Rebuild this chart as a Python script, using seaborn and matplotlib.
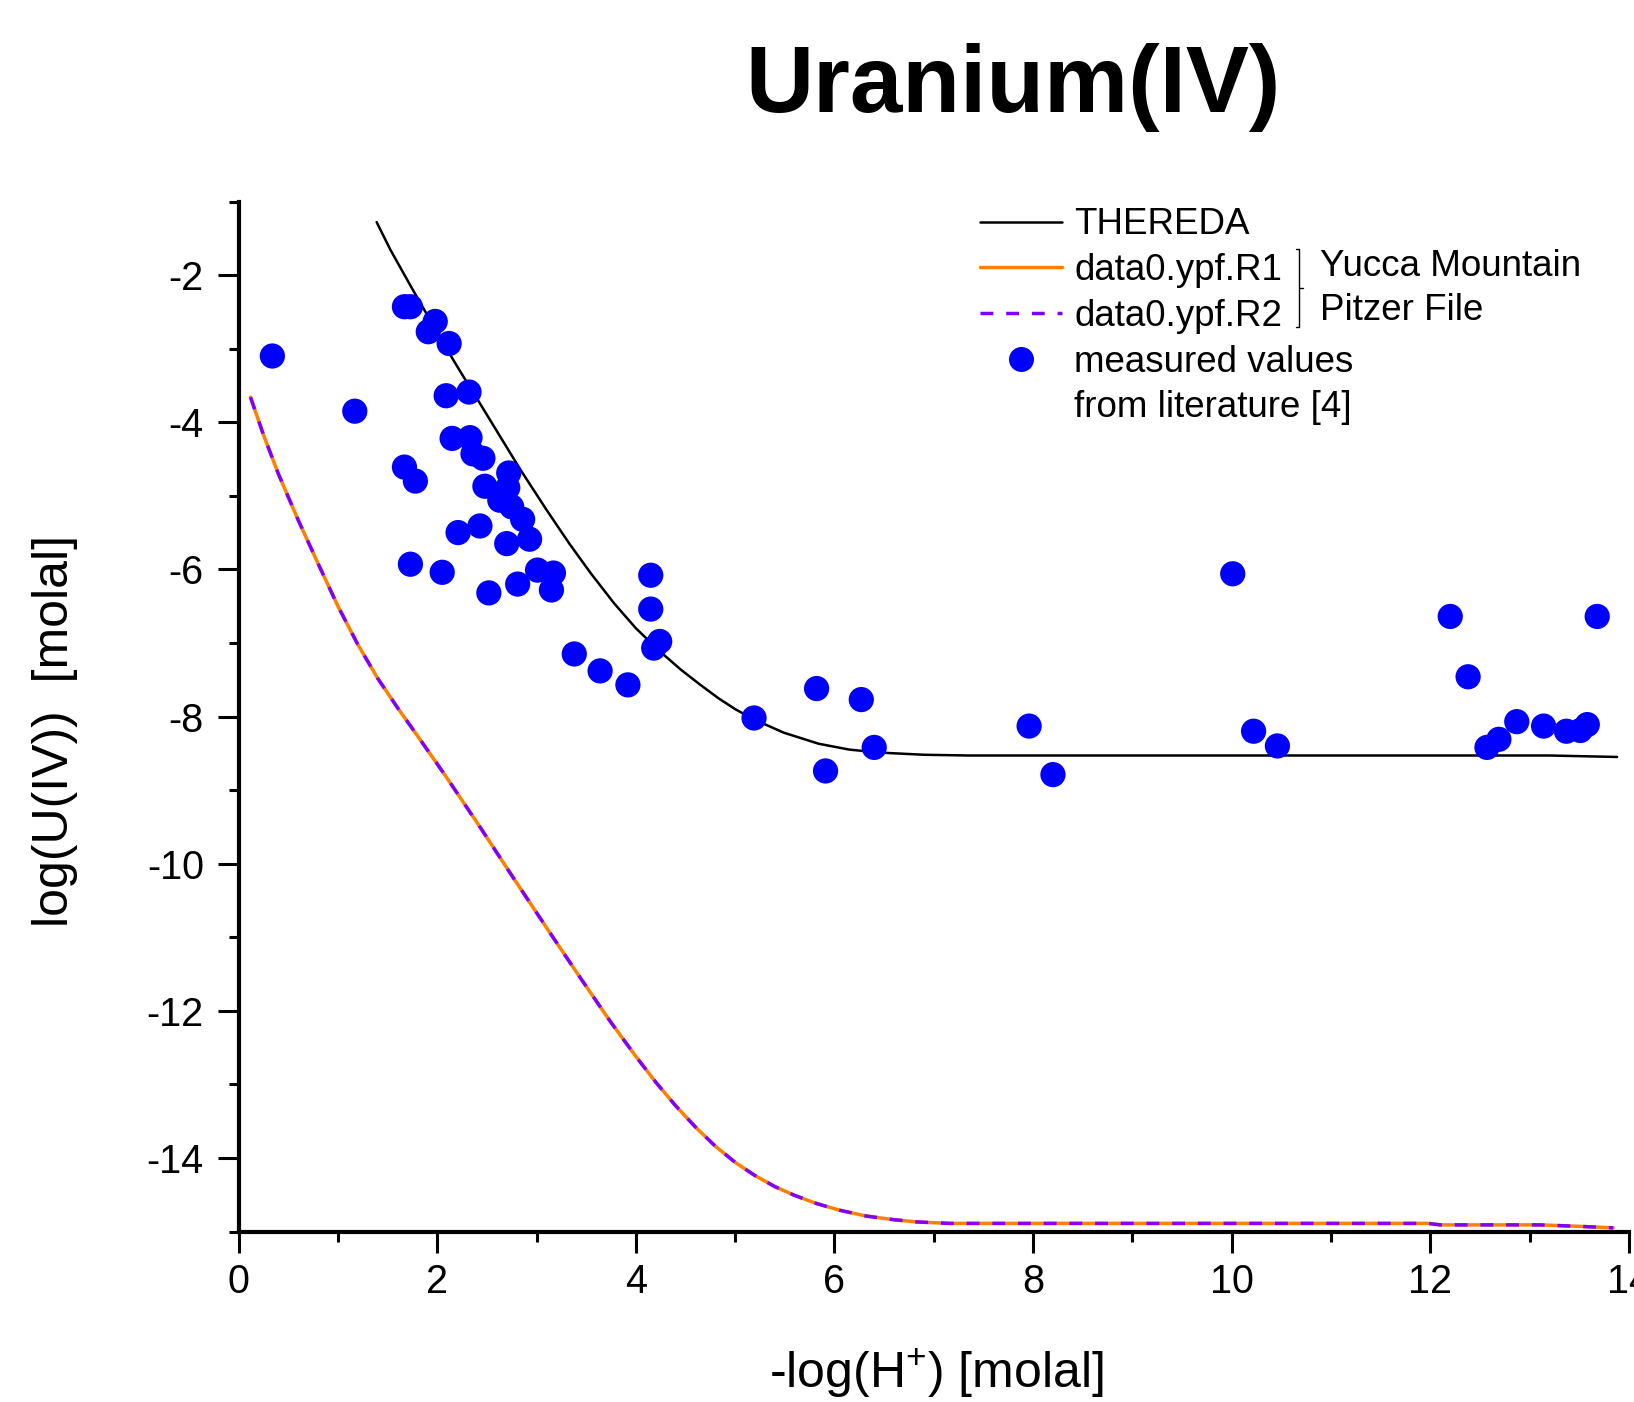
import matplotlib
matplotlib.use("Agg")
import matplotlib.pyplot as plt
from matplotlib.lines import Line2D
from matplotlib.ticker import MultipleLocator
import seaborn as sns
import pandas as pd

# ---------------- data ----------------
thereda_x = [1.39, 1.53, 1.75, 2.00, 2.12, 2.25, 2.41, 2.60, 2.84, 3.10, 3.33, 3.55,
             3.78, 4.00, 4.23, 4.45, 4.65, 4.83, 5.00, 5.19, 5.49, 5.84, 6.15, 6.45,
             6.90, 7.35, 10.0, 13.2, 13.88]
thereda_y = [-1.28, -1.66, -2.19, -2.78, -3.06, -3.35, -3.70, -4.12, -4.65, -5.19, -5.65, -6.06,
             -6.46, -6.80, -7.10, -7.36, -7.57, -7.75, -7.90, -8.04, -8.22, -8.37, -8.45, -8.49,
             -8.52, -8.53, -8.53, -8.53, -8.55]

ypf_x = [0.12, 0.25, 0.40, 0.60, 0.80, 1.00, 1.20, 1.40, 1.60, 1.80, 2.08, 2.41, 2.76,
         3.14, 3.45, 3.74, 4.00, 4.20, 4.40, 4.60, 4.80, 5.00, 5.20, 5.40, 5.60, 5.82,
         6.05, 6.32, 6.60, 6.83, 7.16, 11.98, 12.10, 13.10, 13.50, 13.84]
ypf_r1_y = [-3.66, -4.17, -4.70, -5.33, -5.92, -6.50, -7.02, -7.48, -7.88, -8.26, -8.80, -9.46, -10.18,
            -10.95, -11.57, -12.14, -12.62, -12.97, -13.29, -13.58, -13.84, -14.06, -14.24, -14.39, -14.51, -14.62,
            -14.71, -14.79, -14.84, -14.87, -14.89, -14.89, -14.91, -14.91, -14.93, -14.95]
ypf_r2_y = list(ypf_r1_y)

meas_x = [0.34, 1.17, 1.67, 1.73, 1.98, 1.91, 2.12, 2.09, 2.32, 2.15, 2.33, 2.36, 2.46,
          2.72, 1.67, 1.78, 2.48, 2.71, 2.63, 2.75, 2.86, 2.21, 2.43, 2.70, 2.93, 1.73,
          2.05, 2.52, 2.81, 3.01, 3.17, 3.15, 4.15, 4.15, 4.24, 4.18, 3.38, 3.64, 3.92,
          5.19, 5.82, 5.91, 6.27, 6.40, 7.96, 8.20, 10.01, 10.22, 10.46, 12.20, 12.38,
          12.57, 12.69, 12.87, 13.14, 13.37, 13.51, 13.58, 13.68]
meas_y = [-3.10, -3.85, -2.43, -2.43, -2.63, -2.77, -2.93, -3.64, -3.59, -4.22, -4.21, -4.43, -4.49,
          -4.69, -4.61, -4.80, -4.87, -4.89, -5.06, -5.15, -5.32, -5.50, -5.41, -5.65, -5.59, -5.93,
          -6.04, -6.32, -6.20, -6.01, -6.05, -6.28, -6.08, -6.54, -6.98, -7.07, -7.15, -7.38, -7.57,
          -8.02, -7.62, -8.74, -7.77, -8.42, -8.13, -8.79, -6.06, -8.20, -8.40, -6.64, -7.46,
          -8.42, -8.31, -8.07, -8.13, -8.20, -8.19, -8.11, -6.64]

series_labels = ["THEREDA", "data0.ypf.R1", "data0.ypf.R2", "measured values", "from literature [4]"]
group_labels = ["Yucca Mountain", "Pitzer File"]
title = "Uranium(IV)"
x_label = "-log(H$^{+}$) [molal]"
y_label = "log(U(IV))  [molal]"

# ---------------- style ----------------
sns.set_style("ticks")
plt.rcParams["font.family"] = ["Liberation Sans", "DejaVu Sans"]
plt.rcParams["mathtext.fontset"] = "custom"
plt.rcParams["mathtext.rm"] = "Liberation Sans"
plt.rcParams["mathtext.it"] = "Liberation Sans:italic"
plt.rcParams["mathtext.bf"] = "Liberation Sans:bold"
plt.rcParams["axes.unicode_minus"] = False
plt.rcParams["text.color"] = "#000000"
plt.rcParams["axes.labelcolor"] = "#000000"
plt.rcParams["xtick.color"] = "#000000"
plt.rcParams["ytick.color"] = "#000000"

C_BLACK = "#000000"
C_ORANGE = "#FF8000"
C_PURPLE = "#8000FF"
C_BLUE = "#0000FF"

fig = plt.figure(figsize=(16.34, 14.02), dpi=100)
ax = fig.add_axes([0.14602, 0.12161, 0.85092, 0.73466])

df_t = pd.DataFrame({"x": thereda_x, "y": thereda_y})
df_r1 = pd.DataFrame({"x": ypf_x, "y": ypf_r1_y})
df_r2 = pd.DataFrame({"x": ypf_x, "y": ypf_r2_y})
df_m = pd.DataFrame({"x": meas_x, "y": meas_y})

sns.lineplot(data=df_t, x="x", y="y", color=C_BLACK, linewidth=1.8, ax=ax,
             errorbar=None, legend=False)
sns.lineplot(data=df_r1, x="x", y="y", color=C_ORANGE, linewidth=2.5, ax=ax,
             errorbar=None, legend=False)
sns.lineplot(data=df_r2, x="x", y="y", color=C_PURPLE, linewidth=2.5, ax=ax,
             errorbar=None, legend=False, linestyle=(0, (3.7, 3.7)))
sns.scatterplot(data=df_m, x="x", y="y", color=C_BLUE, s=330, edgecolor="none",
                linewidth=0, ax=ax, legend=False, zorder=5)

ax.set_xlim(0, 14)
ax.set_ylim(-15, -1)
ax.xaxis.set_major_locator(MultipleLocator(2))
ax.xaxis.set_minor_locator(MultipleLocator(1))
ax.yaxis.set_major_locator(MultipleLocator(2))
ax.yaxis.set_minor_locator(MultipleLocator(1))
sns.despine(ax=ax)
for side in ("left", "bottom"):
    ax.spines[side].set_linewidth(3.0)
    ax.spines[side].set_color(C_BLACK)
ax.tick_params(axis="both", which="major", direction="out", length=15, width=2.2,
               labelsize=28.5, colors=C_BLACK)
ax.tick_params(axis="both", which="minor", direction="out", length=7.5, width=2.2,
               colors=C_BLACK)
ax.tick_params(axis="x", which="major", pad=8)
ax.tick_params(axis="y", which="major", pad=10)

ax.set_xlabel(x_label, fontsize=36, color=C_BLACK)
ax.set_ylabel(y_label, fontsize=36, color=C_BLACK)
ax.xaxis.set_label_coords(0.5016, -0.138)
ax.xaxis.label.set_va("center")
ax.yaxis.set_label_coords(-0.132, 0.486)
ax.yaxis.label.set_va("center")

fig.text(0.620, 0.9203, title, fontsize=68, fontweight="bold", ha="center",
         va="baseline", color=C_BLACK)

# ---------------- legend ----------------
handles = [
    Line2D([], [], color=C_BLACK, linewidth=1.8),
    Line2D([], [], color=C_ORANGE, linewidth=2.5),
    Line2D([], [], color=C_PURPLE, linewidth=2.5, linestyle=(0, (3.7, 3.7))),
    Line2D([], [], color=C_BLUE, marker="o", markersize=18, linestyle="none",
           markeredgewidth=0),
    Line2D([], [], linestyle="none", marker=None),
]
leg = ax.legend(handles, series_labels, loc="upper left",
                bbox_to_anchor=(0.5998, 0.852), bbox_transform=fig.transFigure,
                frameon=False, fontsize=26.5, handlelength=2.23, handletextpad=0.33,
                labelspacing=0.29, borderpad=0, borderaxespad=0)
for t in leg.get_texts():
    t.set_color(C_BLACK)

# bracket grouping R1 / R2
H = 1402.0
W = 1634.0
bx = 1299 / W
y_top = 1 - 249 / H
y_bot = 1 - 327 / H
y_mid = 1 - 288 / H
fig.add_artist(Line2D([bx - 3 / W, bx, bx, bx - 3 / W], [y_top, y_top, y_bot, y_bot],
                      transform=fig.transFigure, color=C_BLACK, linewidth=1.0))
fig.add_artist(Line2D([bx, bx + 4 / W], [y_mid, y_mid],
                      transform=fig.transFigure, color=C_BLACK, linewidth=1.0))
fig.text(1320 / W, 1 - 267 / H, group_labels[0], fontsize=26.5, ha="left",
         va="center", color=C_BLACK)
fig.text(1320 / W, 1 - 311 / H, group_labels[1], fontsize=26.5, ha="left",
         va="center", color=C_BLACK)

fig.savefig("out.png", dpi=100)
